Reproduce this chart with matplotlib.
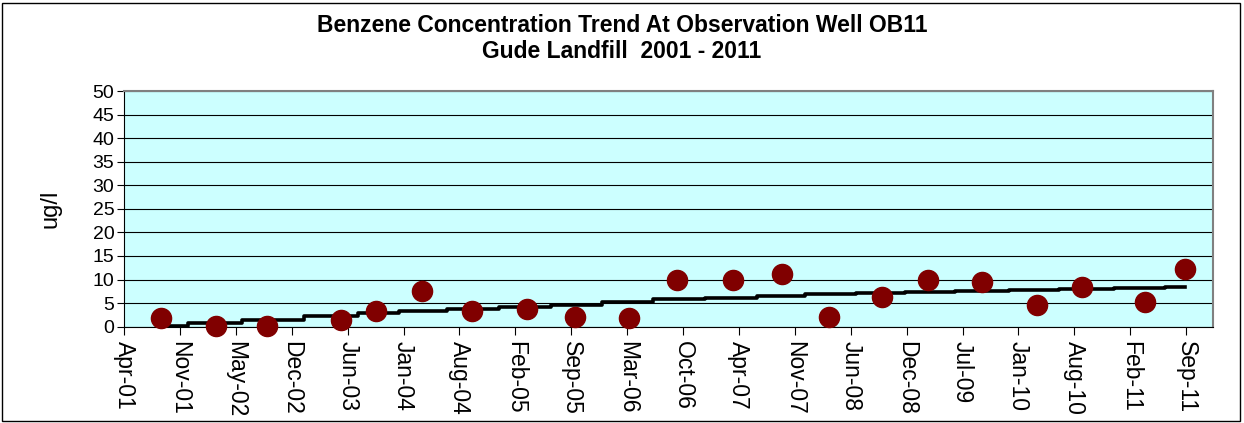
import numpy as np
import pandas as pd
import matplotlib
matplotlib.use("Agg")
import matplotlib.pyplot as plt
import matplotlib.dates as mdates
from matplotlib.patches import Rectangle

plt.rcParams['font.family'] = ['Liberation Sans', 'DejaVu Sans']

# sample dates and benzene readings (ug/l)
sample_dates = ['2001-08-25', '2002-03-09', '2002-09-11', '2003-05-31', '2003-10-04',
                '2004-03-18', '2004-09-13', '2005-03-27', '2005-09-15', '2006-03-28',
                '2006-09-17', '2007-04-06', '2007-09-27', '2008-03-15', '2008-09-20',
                '2009-03-04', '2009-09-14', '2010-03-28', '2010-09-08', '2011-04-20',
                '2011-09-11']
benzene = [1.8, 0.2, 0.2, 1.5, 3.4, 7.6, 3.3, 3.7, 2.1, 1.8,
           9.9, 9.9, 11.1, 2.1, 6.4, 9.9, 9.5, 4.5, 8.4, 5.3, 12.2]
trend = [0.1, 0.8, 1.5, 2.3, 2.9, 3.4, 3.7, 4.2, 4.7, 5.3,
         5.8, 6.1, 6.5, 6.9, 7.1, 7.3, 7.6, 7.8, 8.0, 8.3, 8.4]

tick_labels = ['Apr-01', 'Nov-01', 'May-02', 'Dec-02', 'Jun-03', 'Jan-04', 'Aug-04',
               'Feb-05', 'Sep-05', 'Mar-06', 'Oct-06', 'Apr-07', 'Nov-07', 'Jun-08',
               'Dec-08', 'Jul-09', 'Jan-10', 'Aug-10', 'Feb-11', 'Sep-11']

x = mdates.date2num(pd.to_datetime(sample_dates))
t0 = mdates.date2num(pd.Timestamp('2001-04-15'))
t1 = mdates.date2num(pd.Timestamp('2011-09-15'))
tick_pos = np.linspace(t0, t1, len(tick_labels))
step = tick_pos[1] - tick_pos[0]

fig = plt.figure(figsize=(12.44, 4.23), dpi=100)
ax = fig.add_axes([124/1244, 1-326.7/423, (1213-124)/1244, (326.7-91)/423])
ax.set_facecolor('#CCFFFF')

ax.plot(x, trend, color='black', lw=2.6, drawstyle='steps-mid', zorder=3)
ax.plot(x, benzene, 'o', color='#800000', ms=14.5, mec='#800000', zorder=4, clip_on=False)

ax.set_xlim(t0, t1 + 0.48*step)
ax.set_ylim(0, 50)
ax.set_yticks(range(0, 51, 5))
ax.set_xticks(tick_pos)
ax.set_xticklabels(tick_labels, rotation=-90, fontsize=16.5)
ax.tick_params(axis='y', labelsize=14, direction='out', length=5, pad=2)
ax.tick_params(axis='x', direction='out', length=6, pad=4)
ax.grid(axis='y', color='black', lw=0.8)
ax.set_axisbelow(True)
for side in ['top', 'right']:
    ax.spines[side].set_color('#808080')
    ax.spines[side].set_linewidth(1.5)
for side in ['left', 'bottom']:
    ax.spines[side].set_color('black')

ax.set_ylabel('ug/l', fontsize=17, labelpad=22)

fig.text(0.5, 1-25/423, 'Benzene Concentration Trend At Observation Well OB11',
         ha='center', va='center', fontsize=16.5, fontweight='bold')
fig.text(0.5, 1-52/423, 'Gude Landfill  2001 - 2011',
         ha='center', va='center', fontsize=16.5, fontweight='bold')

fig.add_artist(Rectangle((2/1244, 2/423), 1238/1244, 418/423, transform=fig.transFigure,
                         fill=False, ec='black', lw=1))

fig.savefig('out.png', dpi=100)
